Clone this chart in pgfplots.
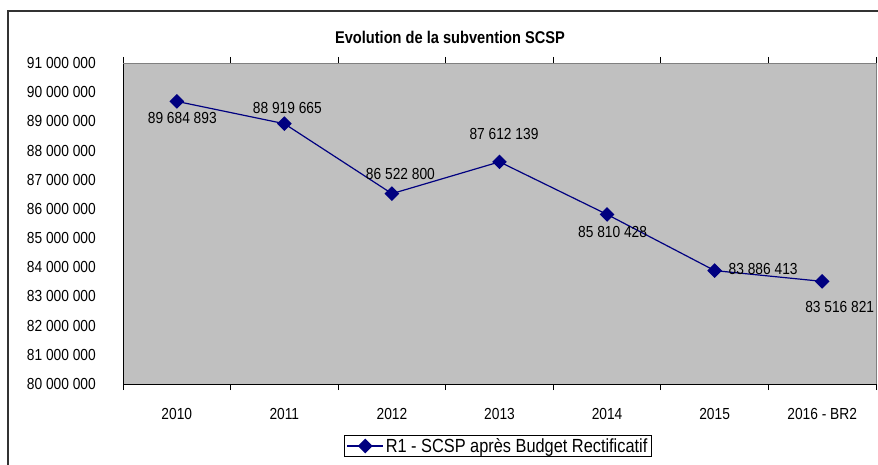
\documentclass[border=0pt]{standalone}
\usepackage{pgfplots}
\pgfplotsset{compat=1.18}
\usepackage{fontspec}
\setmainfont{Liberation Sans}[FakeStretch=0.86]
\definecolor{navyline}{RGB}{0,0,128}
\definecolor{plotgray}{RGB}{192,192,192}
\definecolor{bordergray}{RGB}{128,128,128}
\begin{document}
\begin{tikzpicture}
\useasboundingbox (0pt,0pt) rectangle (878pt,464pt);
\draw[line width=1.5pt, color=black!80] (8pt,-5pt) -- (8pt,453pt) -- (895pt,453pt);
\node[font=\fontsize{17}{20}\selectfont\bfseries] at (450pt,427pt) {Evolution de la subvention SCSP};
\begin{axis}[
  at={(123pt,80pt)}, anchor=south west,
  scale only axis, width=753pt, height=321pt,
  xmin=-0.5, xmax=6.5,
  ymin=80000000, ymax=91000000,
  scaled y ticks=false,
  xtick={0,1,2,3,4,5,6},
  xticklabels={2010,2011,2012,2013,2014,2015,2016 - BR2},
  minor xtick={-0.5,0.5,1.5,2.5,3.5,4.5,5.5,6.5},
  ytick={80000000,81000000,82000000,83000000,84000000,85000000,86000000,87000000,88000000,89000000,90000000,91000000},
  yticklabels={80 000 000,81 000 000,82 000 000,83 000 000,84 000 000,85 000 000,86 000 000,87 000 000,88 000 000,89 000 000,90 000 000,91 000 000},
  major tick length=0pt,
  major tick style={draw=none},
  minor tick length=6pt,
  minor tick style={draw=black, line width=0.8pt},
  tick align=outside,
  axis line style={draw=none},
  axis background/.style={fill=plotgray},
  yticklabel style={font=\fontsize{16}{19}\selectfont, anchor=east, inner sep=0pt, xshift=-27pt},
  xticklabel style={font=\fontsize{16}{19}\selectfont, anchor=north, inner sep=0pt, yshift=-24pt},
  clip=false,
  legend style={at={(0.498,-0.193)}, anchor=center, draw=black, fill=white,
    font=\fontsize{19}{22}\selectfont, inner xsep=2pt, inner ysep=1pt, line width=0.6pt},
  legend image code/.code={\draw[mark repeat=2,mark phase=2] plot coordinates {(0pt,0pt)(18pt,0pt)(36pt,0pt)};},
]
\draw[color=black, line width=0.9pt] (rel axis cs:0,1) -- (rel axis cs:0,0) -- (rel axis cs:1,0);
\draw[color=bordergray, line width=0.9pt] (rel axis cs:0,1) -- (rel axis cs:1,1) -- (rel axis cs:1,0);
\addplot[color=navyline, line width=1.2pt, mark=square*, mark size=4.6pt,
  mark options={rotate=45, solid, fill=navyline}]
  coordinates {(0,89684893)(1,88919665)(2,86522800)(3,87612139)(4,85810428)(5,83886413)(6,83516821)};
\addlegendentry{R1 - SCSP après Budget Rectificatif}
\begin{scope}[every node/.style={font=\fontsize{16}{19}\selectfont, inner sep=0pt}]
\node[xshift=5.5pt, yshift=-17pt] at (axis cs:0,89684893) {89 684 893};
\node[xshift=3pt, yshift=16pt] at (axis cs:1,88919665) {88 919 665};
\node[xshift=8.5pt, yshift=20pt] at (axis cs:2,86522800) {86 522 800};
\node[xshift=4.5pt, yshift=27.5pt] at (axis cs:3,87612139) {87 612 139};
\node[xshift=5.5pt, yshift=-18pt] at (axis cs:4,85810428) {85 810 428};
\node[xshift=48.5pt, yshift=1.5pt] at (axis cs:5,83886413) {83 886 413};
\node[xshift=17.5pt, yshift=-26pt] at (axis cs:6,83516821) {83 516 821};
\end{scope}
\end{axis}
\end{tikzpicture}
\end{document}
